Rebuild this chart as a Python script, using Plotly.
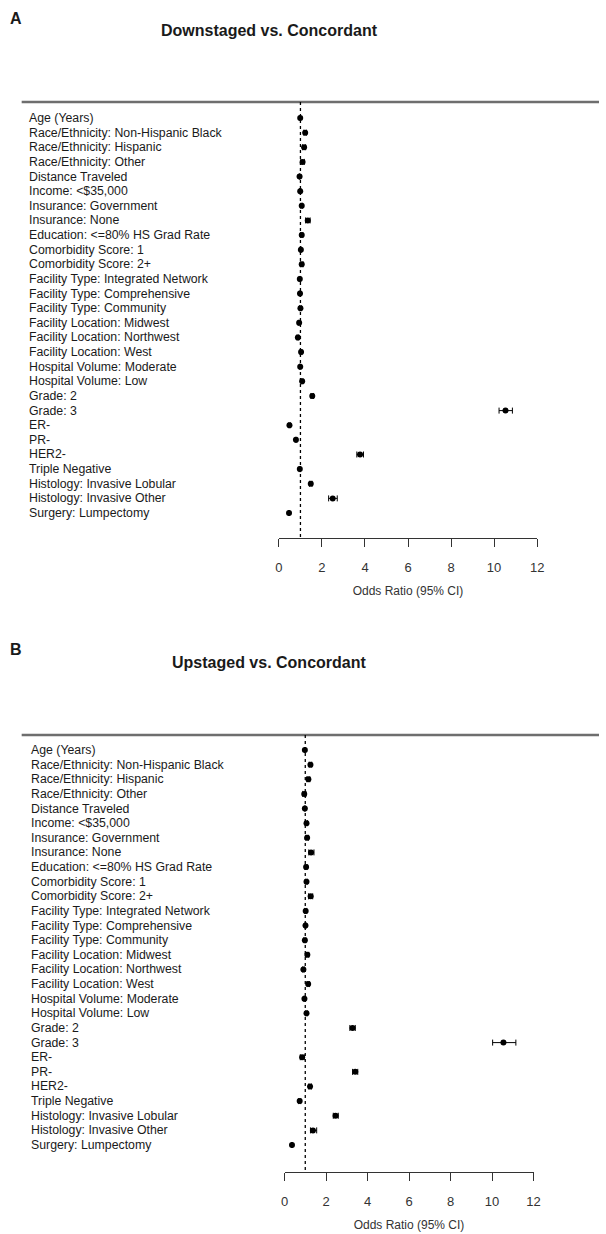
import plotly.graph_objects as go

labels = [
    "Age (Years)",
    "Race/Ethnicity: Non-Hispanic Black",
    "Race/Ethnicity: Hispanic",
    "Race/Ethnicity: Other",
    "Distance Traveled",
    "Income: <$35,000",
    "Insurance: Government",
    "Insurance: None",
    "Education: <=80% HS Grad Rate",
    "Comorbidity Score: 1",
    "Comorbidity Score: 2+",
    "Facility Type: Integrated Network",
    "Facility Type: Comprehensive",
    "Facility Type: Community",
    "Facility Location: Midwest",
    "Facility Location: Northwest",
    "Facility Location: West",
    "Hospital Volume: Moderate",
    "Hospital Volume: Low",
    "Grade: 2",
    "Grade: 3",
    "ER-",
    "PR-",
    "HER2-",
    "Triple Negative",
    "Histology: Invasive Lobular",
    "Histology: Invasive Other",
    "Surgery: Lumpectomy",
]

# Panel A: Downstaged vs. Concordant
a_or = [0.99, 1.22, 1.17, 1.10, 0.96, 0.99, 1.06, 1.34, 1.06, 1.02, 1.06, 0.97, 0.98, 1.00,
        0.94, 0.88, 1.03, 0.99, 1.08, 1.55, 10.53, 0.49, 0.79, 3.77, 0.97, 1.48, 2.50, 0.47]
a_lo = [0.98, 1.16, 1.10, 1.02, 0.95, 0.96, 1.02, 1.24, 1.01, 0.99, 1.00, 0.94, 0.95, 0.96,
        0.90, 0.84, 0.99, 0.96, 1.04, 1.49, 10.23, 0.46, 0.76, 3.62, 0.94, 1.42, 2.31, 0.45]
a_hi = [1.00, 1.28, 1.24, 1.18, 0.97, 1.02, 1.10, 1.45, 1.11, 1.05, 1.12, 1.00, 1.01, 1.04,
        0.98, 0.92, 1.07, 1.02, 1.12, 1.61, 10.85, 0.53, 0.83, 3.93, 1.00, 1.54, 2.71, 0.49]

# Panel B: Upstaged vs. Concordant
b_or = [0.98, 1.25, 1.15, 0.95, 0.98, 1.06, 1.09, 1.28, 1.04, 1.06, 1.26, 1.02, 1.01, 0.98,
        1.10, 0.91, 1.14, 0.96, 1.06, 3.28, 10.55, 0.85, 3.41, 1.23, 0.73, 2.46, 1.37, 0.36]
b_lo = [0.97, 1.19, 1.08, 0.88, 0.96, 1.01, 1.03, 1.17, 0.99, 1.02, 1.16, 0.97, 0.98, 0.93,
        1.04, 0.87, 1.09, 0.93, 1.02, 3.15, 10.03, 0.76, 3.28, 1.17, 0.68, 2.35, 1.25, 0.34]
b_hi = [0.99, 1.31, 1.22, 1.03, 1.00, 1.11, 1.15, 1.42, 1.09, 1.10, 1.36, 1.07, 1.04, 1.03,
        1.17, 0.95, 1.20, 0.99, 1.10, 3.41, 11.15, 0.95, 3.53, 1.30, 0.78, 2.59, 1.55, 0.38]

x_ticks = [0, 2, 4, 6, 8, 10, 12]
titles = ["Downstaged vs. Concordant", "Upstaged vs. Concordant"]
panel_tags = ["A", "B"]
x_title = "Odds Ratio (95% CI)"

W, H = 606, 1234
FONT = "Liberation Sans, Arial, sans-serif"


def px(v):
    return v / W


def py(v):
    return 1 - v / H


rows = list(range(1, len(labels) + 1))

panels = [
    dict(or_=a_or, lo=a_lo, hi=a_hi, xdom=(280, 543), top=102, bottom=538, row1=118,
         lab_x=23, title_y=31, tag_y=18, xa="x", ya="y"),
    dict(or_=b_or, lo=b_lo, hi=b_hi, xdom=(285.7, 539.3), top=735, bottom=1172, row1=750,
         lab_x=25, title_y=662, tag_y=649, xa="x2", ya="y2"),
]
step = 14.63

fig = go.Figure()
annotations = []
shapes = []
layout_axes = {}

for k, p in enumerate(panels):
    err_plus = [h - o for h, o in zip(p["hi"], p["or_"])]
    err_minus = [o - l for o, l in zip(p["or_"], p["lo"])]
    fig.add_trace(go.Scatter(
        x=p["or_"], y=rows, mode="markers",
        marker=dict(symbol="circle", size=6, color="black"),
        error_x=dict(type="data", array=err_plus, arrayminus=err_minus,
                     color="black", thickness=1, width=3),
        xaxis=p["xa"], yaxis=p["ya"], showlegend=False, hoverinfo="skip",
    ))
    # y range so that row i sits at pixel row1 + step*(i-1)
    y_top = 1 - (p["row1"] - p["top"]) / step
    y_bot = 1 + (p["bottom"] - p["row1"]) / step
    xname = "xaxis" if k == 0 else "xaxis2"
    yname = "yaxis" if k == 0 else "yaxis2"
    layout_axes[xname] = dict(
        domain=[px(p["xdom"][0]), px(p["xdom"][1])], range=[0, 12],
        anchor=p["ya"], tickvals=x_ticks, ticktext=[str(t) for t in x_ticks],
        showline=True, linecolor="#333333", linewidth=1.3,
        ticks="outside", ticklen=8, tickwidth=1.3, tickcolor="#333333",
        showgrid=False, zeroline=False,
        tickfont=dict(family=FONT, size=13, color="#333333"),
        ticklabelstandoff=9,
        title=dict(text=x_title, font=dict(family=FONT, size=12, color="#333333"), standoff=12),
    )
    layout_axes[yname] = dict(
        domain=[py(p["bottom"]), py(p["top"])], range=[y_bot, y_top],
        anchor=p["xa"], showticklabels=False, showgrid=False, zeroline=False,
        showline=False, ticks="",
    )
    # row labels
    for i, lab in zip(rows, labels):
        annotations.append(dict(
            x=px(p["lab_x"]), xref="paper", y=i, yref=p["ya"], text=lab,
            showarrow=False, xanchor="left", yanchor="middle",
            font=dict(family=FONT, size=12.3, color="#1a1a1a"),
        ))
    # title and panel tag
    annotations.append(dict(
        x=px(270), xref="paper", y=py(p["title_y"]), yref="paper", text="<b>" + titles[k] + "</b>",
        showarrow=False, xanchor="center", yanchor="middle",
        font=dict(family=FONT, size=16, color="#1a1a1a"),
    ))
    annotations.append(dict(
        x=px(4), xref="paper", y=py(p["tag_y"]), yref="paper", text="<b>" + panel_tags[k] + "</b>",
        showarrow=False, xanchor="left", yanchor="middle",
        font=dict(family=FONT, size=16, color="#1a1a1a"),
    ))
    # top rule
    shapes.append(dict(type="line", xref="paper", yref="paper",
                       x0=px(18), x1=1, y0=py(p["top"]), y1=py(p["top"]),
                       line=dict(color="#6e6e6e", width=2.5)))
    # reference line at OR = 1
    shapes.append(dict(type="line", xref=p["xa"], yref=p["ya"],
                       x0=1, x1=1, y0=y_top, y1=y_bot,
                       line=dict(color="black", width=1.3, dash="dot")))

fig.update_layout(
    width=W, height=H, margin=dict(l=0, r=0, t=0, b=0),
    paper_bgcolor="white", plot_bgcolor="white",
    annotations=annotations, shapes=shapes, **layout_axes,
)

fig.write_html("out.html", config={"displayModeBar": False},
               post_script="document.body.style.margin='0';")
